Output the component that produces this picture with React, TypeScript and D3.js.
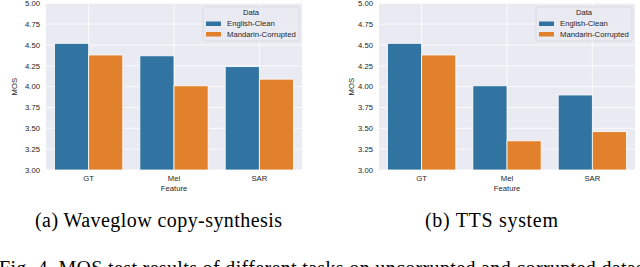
import React from "react";
import * as d3 from "d3";

const features = ["GT", "Mel", "SAR"];
const series = ["English-Clean", "Mandarin-Corrupted"];
const copySynthClean = [4.52, 4.37, 4.24];
const copySynthCorrupted = [4.38, 4.01, 4.09];
const ttsClean = [4.52, 4.01, 3.9];
const ttsCorrupted = [4.38, 3.35, 3.46];
const yTicks = [3.0, 3.25, 3.5, 3.75, 4.0, 4.25, 4.5, 4.75, 5.0];
const colors = ["#3274A1", "#E1812C"];

const font = "Liberation Sans, Arial, sans-serif";
const serif = "Liberation Serif, Times New Roman, serif";
const fs = 7.7;

type PanelProps = { left: number; labelOffset: number; values: number[][] };

const Panel = ({ left, labelOffset, values }: PanelProps) => {
  const width = 256;
  const top = 3.3;
  const bottom = 170;
  const x = d3.scaleBand().domain(features).range([left, left + width]);
  const hue = d3
    .scaleBand()
    .domain(series)
    .range([x.bandwidth() * 0.1, x.bandwidth() * 0.9]);
  const y = d3.scaleLinear().domain([3, 5]).range([bottom, top]);

  const lx = left + 157;
  return (
    <g>
      <rect x={left} y={top} width={width} height={bottom - top} fill="#EAEAF2" />
      {yTicks.map((t) => (
        <g key={t}>
          <line x1={left} x2={left + width} y1={y(t)} y2={y(t)} stroke="#fff" strokeWidth={0.8} />
          <text
            x={left - 6}
            y={y(t)}
            dy="0.35em"
            textAnchor="end"
            fontSize={fs}
            fill="#262626"
            fontFamily={font}
          >
            {d3.format(".2f")(t)}
          </text>
        </g>
      ))}
      {features.map((f) => (
        <g key={f}>
          <line
            x1={x(f)! + x.bandwidth() / 2}
            x2={x(f)! + x.bandwidth() / 2}
            y1={top}
            y2={bottom}
            stroke="#fff"
            strokeWidth={0.8}
          />
          <text
            x={x(f)! + x.bandwidth() / 2}
            y={178.5}
            dy="0.35em"
            textAnchor="middle"
            fontSize={fs}
            fill="#262626"
            fontFamily={font}
          >
            {f}
          </text>
        </g>
      ))}
      {series.map((s, si) =>
        features.map((f, fi) => (
          <rect
            key={s + f}
            x={x(f)! + hue(s)!}
            y={y(values[si][fi])}
            width={hue.bandwidth()}
            height={y(3) - y(values[si][fi])}
            fill={colors[si]}
            stroke="#fff"
            strokeWidth={0.8}
          />
        ))
      )}
      <text
        x={left + width / 2}
        y={188}
        dy="0.35em"
        textAnchor="middle"
        fontSize={fs}
        fill="#262626"
        fontFamily={font}
      >
        Feature
      </text>
      <text
        transform={`translate(${left - labelOffset},${(top + bottom) / 2}) rotate(-90)`}
        textAnchor="middle"
        dy="0.35em"
        fontSize={fs}
        fill="#262626"
        fontFamily={font}
      >
        MOS
      </text>
      <g>
        <rect
          x={lx}
          y={7}
          width={96}
          height={34}
          rx={1.5}
          fill="#EAEAF2"
          fillOpacity={0.8}
          stroke="#d0d0d0"
          strokeWidth={0.6}
        />
        <text
          x={lx + 48}
          y={12.7}
          dy="0.35em"
          textAnchor="middle"
          fontSize={fs}
          fill="#262626"
          fontFamily={font}
        >
          Data
        </text>
        {series.map((s, si) => (
          <g key={s}>
            <rect x={lx + 3} y={21.5 + si * 10.5} width={15} height={4.5} fill={colors[si]} />
            <text
              x={lx + 24}
              y={23.7 + si * 10.5}
              dy="0.35em"
              fontSize={fs}
              fill="#262626"
              fontFamily={font}
            >
              {s}
            </text>
          </g>
        ))}
      </g>
    </g>
  );
};

const App = () => {
  return (
    <svg
      width={640}
      height={267}
      style={{ position: "absolute", left: 0, top: 0, background: "#fff" }}
    >
      <Panel left={46} labelOffset={32} values={[copySynthClean, copySynthCorrupted]} />
      <Panel left={379} labelOffset={28} values={[ttsClean, ttsCorrupted]} />
      <text x={35} y={227} fontSize={20} fill="#000" fontFamily={serif} textLength={247}>
        (a) Waveglow copy-synthesis
      </text>
      <text x={425} y={227} fontSize={20} fill="#000" fontFamily={serif} textLength={133}>
        (b) TTS system
      </text>
      <text x={-1} y={274.5} fontSize={20} fill="#000" fontFamily={serif} textLength={660}>
        Fig. 4. MOS test results of different tasks on uncorrupted and corrupted dataset
      </text>
    </svg>
  );
};

export default App;
